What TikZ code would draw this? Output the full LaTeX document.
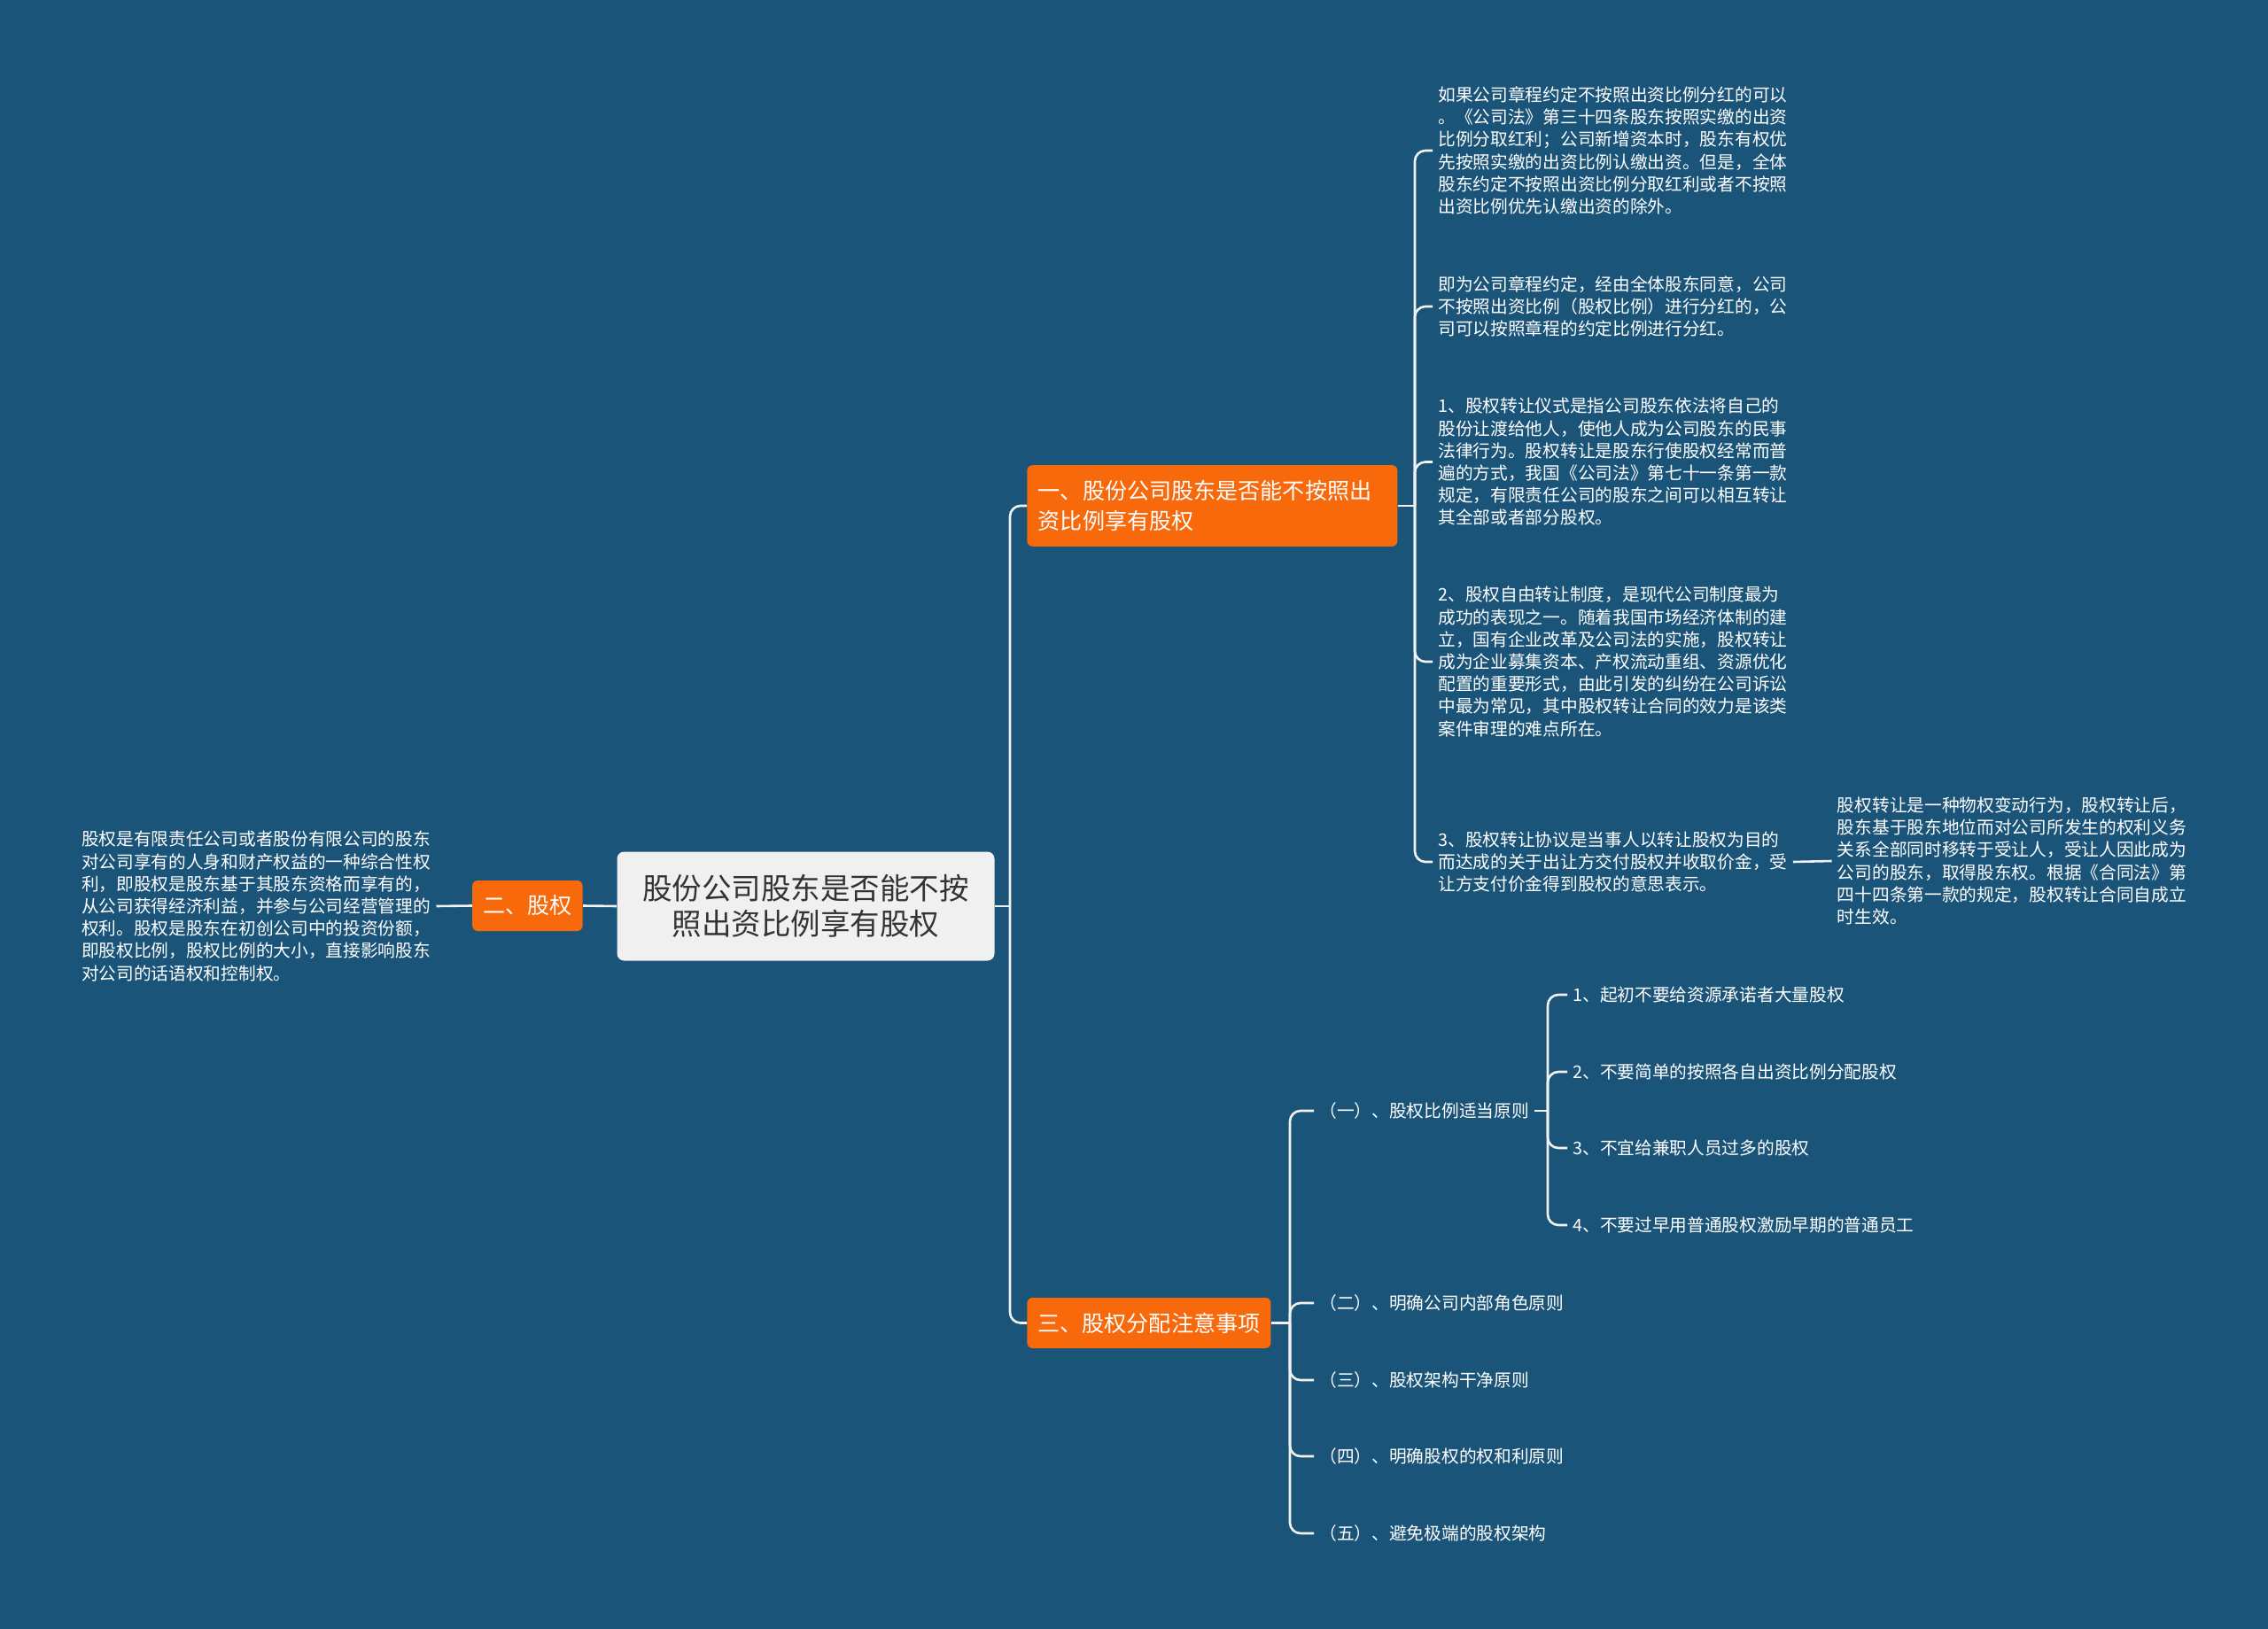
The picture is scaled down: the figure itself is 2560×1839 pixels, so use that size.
\documentclass[tikz,border=0pt]{standalone}
\usepackage{fontspec}
\setmainfont{Noto Sans CJK SC}
\usetikzlibrary{positioning,calc}
\definecolor{mapBackBlue}{HTML}{1B5479}
\definecolor{mapOrangeFill}{HTML}{F8690C}
\definecolor{mapRootFill}{HTML}{F0F0F0}
\definecolor{mapRootText}{HTML}{333333}
\definecolor{mapLine}{HTML}{F2F2F2}
\tikzset{
  root box/.style={
    fill=mapRootFill, rounded corners=4pt, text=mapRootText,
    font=\fontsize{16.75pt}{20pt}\selectfont, align=center,
    minimum width=213pt, minimum height=61.5pt,
  },
  topic box/.style={
    fill=mapOrangeFill, rounded corners=3pt, text=white,
    font=\fontsize{12.55pt}{16.8pt}\selectfont, align=left,
    inner xsep=6pt, minimum height=28.5pt,
  },
  leaf text/.style={
    text=white, font=\fontsize{9.85pt}{12.6pt}\selectfont,
    align=left, inner sep=3pt,
  },
  branch line/.style={
    draw=mapLine, line width=1.3pt, rounded corners=6pt,
  },
}

\begin{document}
\begin{tikzpicture}[x=0.5pt, y=-0.5pt]

% --- CANVAS ---
\fill[mapBackBlue] (0,0) rectangle (2560,1839);
\useasboundingbox (0,0) rectangle (2560,1839);

% --- ROOT AND TOPICS ---
\node[root box] (root) at (909.5,1023)
  {股份公司股东是否能不按\\照出资比例享有股权};
\node[topic box, anchor=west, text width=196.6pt, inner xsep=6.2pt,
      minimum height=45.8pt]
  (ratio) at (1159,571) {一、股份公司股东是否能不按照出\\资比例享有股权};
\node[topic box, anchor=east] (equity) at (658,1022.5) {二、股权};
\node[topic box, anchor=west] (allot) at (1159,1493.5) {三、股权分配注意事项};

% --- FORKS ---
\coordinate (trunk) at (1140,1023);
\coordinate (ratioFork) at (1597,571);
\coordinate (allotFork) at (1456,1493.5);
\coordinate (ruleFork) at (1747,1254);

% --- LEAVES OF TOPIC ONE ---
\node[leaf text, anchor=west] (ratioA) at (1617,170)
  {如果公司章程约定不按照出资比例分红的可以\\
   。《公司法》第三十四条股东按照实缴的出资\\
   比例分取红利；公司新增资本时，股东有权优\\
   先按照实缴的出资比例认缴出资。但是，全体\\
   股东约定不按照出资比例分取红利或者不按照\\
   出资比例优先认缴出资的除外。};
\node[leaf text, anchor=west] (ratioB) at (1617,346)
  {即为公司章程约定，经由全体股东同意，公司\\
   不按照出资比例（股权比例）进行分红的，公\\
   司可以按照章程的约定比例进行分红。};
\node[leaf text, anchor=west] (ratioC) at (1617,521.5)
  {1、股权转让仪式是指公司股东依法将自己的\\
   股份让渡给他人，使他人成为公司股东的民事\\
   法律行为。股权转让是股东行使股权经常而普\\
   遍的方式，我国《公司法》第七十一条第一款\\
   规定，有限责任公司的股东之间可以相互转让\\
   其全部或者部分股权。};
\node[leaf text, anchor=west] (ratioD) at (1617,747)
  {2、股权自由转让制度，是现代公司制度最为\\
   成功的表现之一。随着我国市场经济体制的建\\
   立，国有企业改革及公司法的实施，股权转让\\
   成为企业募集资本、产权流动重组、资源优化\\
   配置的重要形式，由此引发的纠纷在公司诉讼\\
   中最为常见，其中股权转让合同的效力是该类\\
   案件审理的难点所在。};
\node[leaf text, anchor=west] (ratioE) at (1617,973)
  {3、股权转让协议是当事人以转让股权为目的\\
   而达成的关于出让方交付股权并收取价金，受\\
   让方支付价金得到股权的意思表示。};
\node[leaf text, anchor=west] (ratioEnote) at (2067.5,972)
  {股权转让是一种物权变动行为，股权转让后，\\
   股东基于股东地位而对公司所发生的权利义务\\
   关系全部同时移转于受让人，受让人因此成为\\
   公司的股东，取得股东权。根据《合同法》第\\
   四十四条第一款的规定，股权转让合同自成立\\
   时生效。};

% --- LEAF OF TOPIC TWO ---
\node[leaf text, anchor=east] (equityNote) at (492.5,1023)
  {股权是有限责任公司或者股份有限公司的股东\\
   对公司享有的人身和财产权益的一种综合性权\\
   利，即股权是股东基于其股东资格而享有的，\\
   从公司获得经济利益，并参与公司经营管理的\\
   权利。股权是股东在初创公司中的投资份额，\\
   即股权比例，股权比例的大小，直接影响股东\\
   对公司的话语权和控制权。};

% --- LEAVES OF TOPIC THREE ---
\node[leaf text, anchor=west] (ruleA) at (1483,1254) {（一）、股权比例适当原则};
\node[leaf text, anchor=west] (ruleB) at (1483,1471) {（二）、明确公司内部角色原则};
\node[leaf text, anchor=west] (ruleC) at (1483,1558) {（三）、股权架构干净原则};
\node[leaf text, anchor=west] (ruleD) at (1483,1644) {（四）、明确股权的权和利原则};
\node[leaf text, anchor=west] (ruleE) at (1483,1731) {（五）、避免极端的股权架构};

\node[leaf text, anchor=west] (tipA) at (1769,1123) {1、起初不要给资源承诺者大量股权};
\node[leaf text, anchor=west] (tipB) at (1769,1210) {2、不要简单的按照各自出资比例分配股权};
\node[leaf text, anchor=west] (tipC) at (1769,1296) {3、不宜给兼职人员过多的股权};
\node[leaf text, anchor=west] (tipD) at (1769,1383) {4、不要过早用普通股权激励早期的普通员工};

% --- CONNECTORS ---
\draw[branch line] (root.east) -- (trunk);
\draw[branch line] (trunk) |- (ratio.west);
\draw[branch line] (trunk) |- (allot.west);
\draw[branch line] (equity.east) -- (root.west);
\draw[branch line] (equityNote.east) -- (equity.west);

\draw[branch line] (ratio.east) -- (ratioFork);
\foreach \leaf in {ratioA,ratioB,ratioC,ratioD,ratioE}
  \draw[branch line] (ratioFork) |- (\leaf.west);
\draw[branch line] (ratioE.east) -- (ratioEnote.west);

\draw[branch line] (allot.east) -- (allotFork);
\foreach \leaf in {ruleA,ruleB,ruleC,ruleD,ruleE}
  \draw[branch line] (allotFork) |- (\leaf.west);

\draw[branch line] (ruleA.east) -- (ruleFork);
\foreach \leaf in {tipA,tipB,tipC,tipD}
  \draw[branch line] (ruleFork) |- (\leaf.west);

\end{tikzpicture}
\end{document}
